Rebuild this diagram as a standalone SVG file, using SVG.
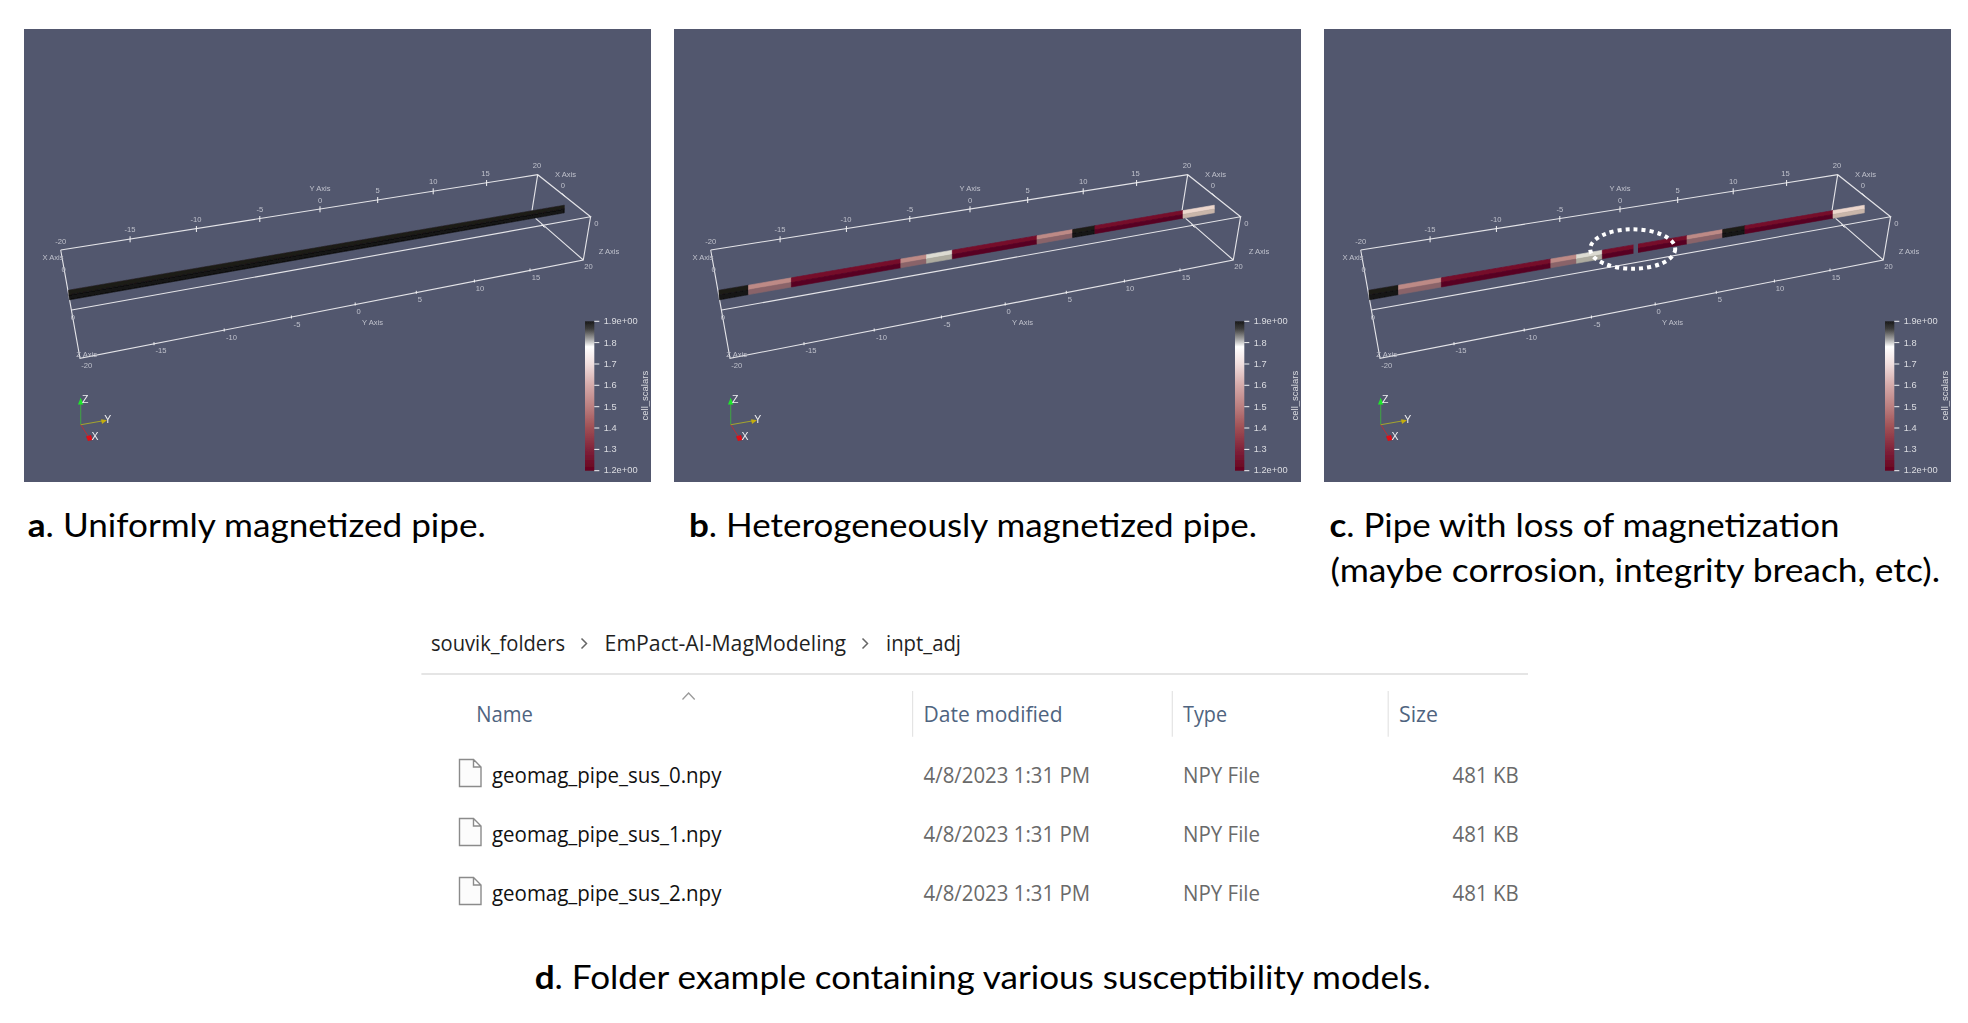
<svg xmlns="http://www.w3.org/2000/svg" xmlns:xlink="http://www.w3.org/1999/xlink" width="1968" height="1023" viewBox="0 0 1968 1023">
<style>
.bg{fill:#52576e}
.frame{fill:none;stroke:#e4e4e8;stroke-width:1.1}
.tk{fill:none;stroke:#f2f2f4;stroke-width:1}
.ax{font:7.6px "Liberation Sans",Arial,sans-serif;fill:#bfc1cb;text-anchor:middle}
.cb{font:9.3px "Liberation Sans",Arial,sans-serif;fill:#dcdde2}
.lt{font:10.5px "Liberation Sans",Arial,sans-serif;fill:#f0f0f2;text-anchor:middle}
.cap{font:32.5px Lato,"Open Sans",sans-serif;fill:#000}
.cap tspan{font-weight:700}
.w{font:22px "Open Sans","Noto Sans",sans-serif}
.crumb{fill:#1f1f1f}.hd{fill:#4f6480}.file{fill:#111}.meta{fill:#6a6a6a}
.sep{stroke:#e4e4e4;stroke-width:1.2}
.chev{fill:none;stroke:#666;stroke-width:1.5}
.icon{fill:#fcfcfc;stroke:#8b8b8b;stroke-width:1.4}
.k1{fill:#1e1b19;stroke:#1e1b19;stroke-width:.6}.k2{fill:#121212;stroke:#121212;stroke-width:.6}
.p1{fill:#bd8a86;stroke:#bd8a86;stroke-width:.6}.p2{fill:#8a6469;stroke:#8a6469;stroke-width:.6}
.r1{fill:#760a2a;stroke:#760a2a;stroke-width:.6}.r2{fill:#590622;stroke:#590622;stroke-width:.6}
.g1{fill:#dcdbd2;stroke:#dcdbd2;stroke-width:.6}.g2{fill:#aeaca0;stroke:#aeaca0;stroke-width:.6}
.e1{fill:#ecd6cc;stroke:#ecd6cc;stroke-width:.6}.e2{fill:#c9b6aa;stroke:#c9b6aa;stroke-width:.6}
</style>
<defs>
<filter id="soft" x="-2%" y="-2%" width="104%" height="104%"><feGaussianBlur stdDeviation="0.4"/></filter>
<linearGradient id="cbar" x1="0" y1="0" x2="0" y2="1">
<stop offset="0" stop-color="#1a1a1a"/><stop offset=".05" stop-color="#3c3c3c"/><stop offset=".12" stop-color="#a5a5a5"/><stop offset=".17" stop-color="#fff"/><stop offset=".285" stop-color="#f1dfdf"/><stop offset=".43" stop-color="#d4a9a9"/><stop offset=".57" stop-color="#bb7f80"/><stop offset=".71" stop-color="#a05055"/><stop offset=".86" stop-color="#80223a"/><stop offset="1" stop-color="#67001f"/>
</linearGradient>
<g id="box">
<path class="frame" d="M60.7 250L537.7 174.7L590.6 216.7L71.7 310M60.7 250L80 358.3L583.3 260L590.6 216.7M537.7 174.7L532 210.7M535.6 218.3L583.3 260"/>
<path class="tk" d="M130.1 236.3v6M196.4 226v6M259.8 216v6M320 206.3v6M377.7 197v6M433.2 188.3v6M486.6 180v6M561.5 193l3.5 3.5M154 342.2v3M224.2 328.5v3M291.4 315.5v3M355.2 302.5v3M416.3 290.8v3M474.4 279.5v3M530 268.5v3M541.5 224.5l3 3"/>
</g>
<g id="legend">
<rect x="585" y="321.3" width="9.3" height="149.4" fill="url(#cbar)"/>
<path class="tk" d="M594.3 321.3h5M594.3 342.6h5M594.3 364h5M594.3 385.3h5M594.3 406.7h5M594.3 428h5M594.3 449.4h5M594.3 470.7h5"/>
<path d="M80.7 424.7V402" stroke="#3f9f45" stroke-width="1.1"/><path d="M80.7 397.5L78 404.5H83.4Z" fill="#1fe62a"/>
<path d="M80.7 424.7L102 421" stroke="#a3a32e" stroke-width="1.1"/><path d="M101 419.3L107 420.3L102 424Z" fill="#c4ae10"/>
<path d="M80.7 424.7L88 436" stroke="#b5303a" stroke-width="1"/><path d="M86 436.5L91 435L92.5 440L88 441Z" fill="#e00b14"/>
</g>
<g id="segments">
<polygon class="k1" points="69,290.2 98.5,285.2 98.5,289.9 69,295"/><polygon class="k2" points="69,295 98.5,289.9 98.5,294.6 69.5,299.8"/>
<polygon class="p1" points="98.5,285.2 141.4,277.8 141.4,282.4 98.5,289.9"/><polygon class="p2" points="98.5,289.9 141.4,282.4 141.4,287 98.5,294.6"/>
<polygon class="r1" points="141.4,277.8 250.8,259 250.8,263.4 141.4,282.4"/><polygon class="r2" points="141.4,282.4 250.8,263.4 250.8,267.8 141.4,287"/>
<polygon class="p1" points="250.8,259 276.5,254.7 276.5,259 250.8,263.4"/><polygon class="p2" points="250.8,263.4 276.5,259 276.5,263.3 250.8,267.8"/>
<polygon class="g1" points="276.5,254.7 302.3,250.2 302.3,254.5 276.5,259"/><polygon class="g2" points="276.5,259 302.3,254.5 302.3,258.8 276.5,263.3"/>
<polygon class="r1" points="302.3,250.2 387,235.7 387,239.8 302.3,254.5"/><polygon class="r2" points="302.3,254.5 387,239.8 387,243.9 302.3,258.8"/>
<polygon class="p1" points="387,235.7 422.6,229.6 422.6,233.6 387,239.8"/><polygon class="p2" points="387,239.8 422.6,233.6 422.6,237.6 387,243.9"/>
<polygon class="k1" points="422.6,229.6 444.9,225.7 444.9,229.7 422.6,233.6"/><polygon class="k2" points="422.6,233.6 444.9,229.7 444.9,233.7 422.6,237.6"/>
<polygon class="r1" points="444.9,225.7 533,210.6 533,214.4 444.9,229.7"/><polygon class="r2" points="444.9,229.7 533,214.4 533,218.2 444.9,233.7"/>
<polygon class="e1" points="533,210.6 564.3,205.2 564.3,209 533,214.4"/><polygon class="e2" points="533,214.4 564.3,209 564.3,212.8 533,218.2"/>
</g>
<path id="fileicon" class="icon" d="M459.5 759.5H473.5L481 767V786.5H459.5ZM473.5 759.5V767H481"/>
</defs>

<g id="panel-a">
<rect class="bg" x="24" y="29" width="627" height="453"/>
<g filter="url(#soft)">
<use xlink:href="#box" href="#box"/>
<polygon class="k1" points="68.5,290.2 564.3,205.2 564.3,209 68.8,295"/><polygon class="k2" points="68.8,295 564.3,209 564.3,212.8 69.5,299.8"/>
<use xlink:href="#legend" href="#legend"/>
</g>
<g filter="url(#soft)">
<text class="ax" x="60.7" y="243.5">-20</text><text class="ax" x="130" y="232">-15</text><text class="ax" x="196" y="221.8">-10</text><text class="ax" x="259.8" y="211.8">-5</text><text class="ax" x="320" y="202.8">0</text><text class="ax" x="320" y="191">Y Axis</text><text class="ax" x="377.7" y="193">5</text><text class="ax" x="433.2" y="184.4">10</text><text class="ax" x="485.6" y="176">15</text><text class="ax" x="536.9" y="168">20</text><text class="ax" x="565.5" y="176.8">X Axis</text><text class="ax" x="562.9" y="188.4">0</text><text class="ax" x="596.3" y="226">0</text><text class="ax" x="609" y="254.4">Z Axis</text><text class="ax" x="588.5" y="269.4">20</text><text class="ax" x="536" y="279.8">15</text><text class="ax" x="480" y="291">10</text><text class="ax" x="419.8" y="302">5</text><text class="ax" x="358.6" y="314.4">0</text><text class="ax" x="372.5" y="325">Y Axis</text><text class="ax" x="297" y="326.7">-5</text><text class="ax" x="231.6" y="340">-10</text><text class="ax" x="160.9" y="353.4">-15</text><text class="ax" x="86.7" y="357">Z Axis</text><text class="ax" x="86.7" y="368">-20</text><text class="ax" x="53" y="260">X Axis</text><text class="ax" x="63.7" y="272">0</text><text class="ax" x="72.9" y="320">0</text>
<text class="lt" x="85.3" y="403">Z</text><text class="lt" x="107.7" y="422.5">Y</text><text class="lt" x="95" y="439.5">X</text>
<text class="cb" x="603.7" y="324">1.9e+00</text><text class="cb" x="603.7" y="345.6">1.8</text><text class="cb" x="603.7" y="367">1.7</text><text class="cb" x="603.7" y="388.3">1.6</text><text class="cb" x="603.7" y="409.6">1.5</text><text class="cb" x="603.7" y="431">1.4</text><text class="cb" x="603.7" y="452.3">1.3</text><text class="cb" x="603.7" y="473.3">1.2e+00</text>
<text class="cb" transform="translate(648 420.5) rotate(-90)" style="font-size:9.5px">cell_scalars</text>
</g>
</g>

<g id="panel-b" transform="translate(650 0)">
<rect class="bg" x="24" y="29" width="627" height="453"/>
<g filter="url(#soft)">
<use xlink:href="#box" href="#box"/>
<use xlink:href="#segments" href="#segments"/>
<use xlink:href="#legend" href="#legend"/>
</g>
<g filter="url(#soft)">
<text class="ax" x="60.7" y="243.5">-20</text><text class="ax" x="130" y="232">-15</text><text class="ax" x="196" y="221.8">-10</text><text class="ax" x="259.8" y="211.8">-5</text><text class="ax" x="320" y="202.8">0</text><text class="ax" x="320" y="191">Y Axis</text><text class="ax" x="377.7" y="193">5</text><text class="ax" x="433.2" y="184.4">10</text><text class="ax" x="485.6" y="176">15</text><text class="ax" x="536.9" y="168">20</text><text class="ax" x="565.5" y="176.8">X Axis</text><text class="ax" x="562.9" y="188.4">0</text><text class="ax" x="596.3" y="226">0</text><text class="ax" x="609" y="254.4">Z Axis</text><text class="ax" x="588.5" y="269.4">20</text><text class="ax" x="536" y="279.8">15</text><text class="ax" x="480" y="291">10</text><text class="ax" x="419.8" y="302">5</text><text class="ax" x="358.6" y="314.4">0</text><text class="ax" x="372.5" y="325">Y Axis</text><text class="ax" x="297" y="326.7">-5</text><text class="ax" x="231.6" y="340">-10</text><text class="ax" x="160.9" y="353.4">-15</text><text class="ax" x="86.7" y="357">Z Axis</text><text class="ax" x="86.7" y="368">-20</text><text class="ax" x="53" y="260">X Axis</text><text class="ax" x="63.7" y="272">0</text><text class="ax" x="72.9" y="320">0</text>
<text class="lt" x="85.3" y="403">Z</text><text class="lt" x="107.7" y="422.5">Y</text><text class="lt" x="95" y="439.5">X</text>
<text class="cb" x="603.7" y="324">1.9e+00</text><text class="cb" x="603.7" y="345.6">1.8</text><text class="cb" x="603.7" y="367">1.7</text><text class="cb" x="603.7" y="388.3">1.6</text><text class="cb" x="603.7" y="409.6">1.5</text><text class="cb" x="603.7" y="431">1.4</text><text class="cb" x="603.7" y="452.3">1.3</text><text class="cb" x="603.7" y="473.3">1.2e+00</text>
<text class="cb" transform="translate(648 420.5) rotate(-90)" style="font-size:9.5px">cell_scalars</text>
</g>
</g>

<g id="panel-c" transform="translate(1300 0)">
<rect class="bg" x="24" y="29" width="627" height="453"/>
<g filter="url(#soft)">
<use xlink:href="#box" href="#box"/>
<use xlink:href="#segments" href="#segments"/>
<polygon class="bg" points="333.5,243 338,242 338,255 333.5,256"/>
<use xlink:href="#legend" href="#legend"/>
</g>
<ellipse cx="332.7" cy="249" rx="42.5" ry="19.7" fill="none" stroke="#fff" stroke-width="4" stroke-dasharray="4 4"/>
<g filter="url(#soft)">
<text class="ax" x="60.7" y="243.5">-20</text><text class="ax" x="130" y="232">-15</text><text class="ax" x="196" y="221.8">-10</text><text class="ax" x="259.8" y="211.8">-5</text><text class="ax" x="320" y="202.8">0</text><text class="ax" x="320" y="191">Y Axis</text><text class="ax" x="377.7" y="193">5</text><text class="ax" x="433.2" y="184.4">10</text><text class="ax" x="485.6" y="176">15</text><text class="ax" x="536.9" y="168">20</text><text class="ax" x="565.5" y="176.8">X Axis</text><text class="ax" x="562.9" y="188.4">0</text><text class="ax" x="596.3" y="226">0</text><text class="ax" x="609" y="254.4">Z Axis</text><text class="ax" x="588.5" y="269.4">20</text><text class="ax" x="536" y="279.8">15</text><text class="ax" x="480" y="291">10</text><text class="ax" x="419.8" y="302">5</text><text class="ax" x="358.6" y="314.4">0</text><text class="ax" x="372.5" y="325">Y Axis</text><text class="ax" x="297" y="326.7">-5</text><text class="ax" x="231.6" y="340">-10</text><text class="ax" x="160.9" y="353.4">-15</text><text class="ax" x="86.7" y="357">Z Axis</text><text class="ax" x="86.7" y="368">-20</text><text class="ax" x="53" y="260">X Axis</text><text class="ax" x="63.7" y="272">0</text><text class="ax" x="72.9" y="320">0</text>
<text class="lt" x="85.3" y="403">Z</text><text class="lt" x="107.7" y="422.5">Y</text><text class="lt" x="95" y="439.5">X</text>
<text class="cb" x="603.7" y="324">1.9e+00</text><text class="cb" x="603.7" y="345.6">1.8</text><text class="cb" x="603.7" y="367">1.7</text><text class="cb" x="603.7" y="388.3">1.6</text><text class="cb" x="603.7" y="409.6">1.5</text><text class="cb" x="603.7" y="431">1.4</text><text class="cb" x="603.7" y="452.3">1.3</text><text class="cb" x="603.7" y="473.3">1.2e+00</text>
<text class="cb" transform="translate(648 420.5) rotate(-90)" style="font-size:9.5px">cell_scalars</text>
</g>
</g>

<g id="captions">
<text class="cap" x="27.8" y="536.7" textLength="458" lengthAdjust="spacingAndGlyphs"><tspan>a</tspan>. Uniformly magnetized pipe.</text>
<text class="cap" x="689" y="536.7" textLength="568" lengthAdjust="spacingAndGlyphs"><tspan>b</tspan>. Heterogeneously magnetized pipe.</text>
<text class="cap" x="1329.5" y="537" textLength="510" lengthAdjust="spacingAndGlyphs"><tspan>c</tspan>. Pipe with loss of magnetization</text>
<text class="cap" x="1330.5" y="582" textLength="609.5" lengthAdjust="spacingAndGlyphs">(maybe corrosion, integrity breach, etc).</text>
<text class="cap" x="534.7" y="989" textLength="896" lengthAdjust="spacingAndGlyphs"><tspan>d</tspan>. Folder example containing various susceptibility models.</text>
</g>

<g id="folder">
<text class="w crumb" x="431" y="650.7" textLength="134" lengthAdjust="spacingAndGlyphs">souvik_folders</text>
<path class="chev" d="M581.5 638.5L586.5 643.5L581.5 648.5M862.5 638.5L867.5 643.5L862.5 648.5"/>
<text class="w crumb" x="604.6" y="650.7" textLength="241.5" lengthAdjust="spacingAndGlyphs">EmPact-AI-MagModeling</text>
<text class="w crumb" x="886" y="650.7" textLength="75" lengthAdjust="spacingAndGlyphs">inpt_adj</text>
<path d="M421.4 674H1528" stroke="#e5e5e5" stroke-width="2"/>
<path d="M682.5 699.5L688.6 693L694.7 699.5" fill="none" stroke="#9a9a9a" stroke-width="1.3"/>
<path class="sep" d="M912.6 691V736.7M1172.3 691V736.7M1388.2 691V736.7"/>
<text class="w hd" x="476.3" y="721.9" textLength="56.7" lengthAdjust="spacingAndGlyphs">Name</text>
<text class="w hd" x="923.5" y="721.9" textLength="139" lengthAdjust="spacingAndGlyphs">Date modified</text>
<text class="w hd" x="1183" y="721.9" textLength="44" lengthAdjust="spacingAndGlyphs">Type</text>
<text class="w hd" x="1399" y="721.9" textLength="39" lengthAdjust="spacingAndGlyphs">Size</text>
<use xlink:href="#fileicon" href="#fileicon"/>
<use xlink:href="#fileicon" href="#fileicon" y="59"/>
<use xlink:href="#fileicon" href="#fileicon" y="118"/>
<text class="w file" x="492" y="782.6" textLength="229.4" lengthAdjust="spacingAndGlyphs">geomag_pipe_sus_0.npy</text>
<text class="w file" x="492" y="841.6" textLength="229.4" lengthAdjust="spacingAndGlyphs">geomag_pipe_sus_1.npy</text>
<text class="w file" x="492" y="900.6" textLength="229.4" lengthAdjust="spacingAndGlyphs">geomag_pipe_sus_2.npy</text>
<text class="w meta" x="923.5" y="782.5" textLength="166.5" lengthAdjust="spacingAndGlyphs">4/8/2023 1:31 PM</text>
<text class="w meta" x="923.5" y="841.5" textLength="166.5" lengthAdjust="spacingAndGlyphs">4/8/2023 1:31 PM</text>
<text class="w meta" x="923.5" y="900.5" textLength="166.5" lengthAdjust="spacingAndGlyphs">4/8/2023 1:31 PM</text>
<text class="w meta" x="1183" y="782.5" textLength="77" lengthAdjust="spacingAndGlyphs">NPY File</text>
<text class="w meta" x="1183" y="841.5" textLength="77" lengthAdjust="spacingAndGlyphs">NPY File</text>
<text class="w meta" x="1183" y="900.5" textLength="77" lengthAdjust="spacingAndGlyphs">NPY File</text>
<text class="w meta" x="1452.6" y="782.5" textLength="66" lengthAdjust="spacingAndGlyphs">481 KB</text>
<text class="w meta" x="1452.6" y="841.5" textLength="66" lengthAdjust="spacingAndGlyphs">481 KB</text>
<text class="w meta" x="1452.6" y="900.5" textLength="66" lengthAdjust="spacingAndGlyphs">481 KB</text>
</g>
</svg>
